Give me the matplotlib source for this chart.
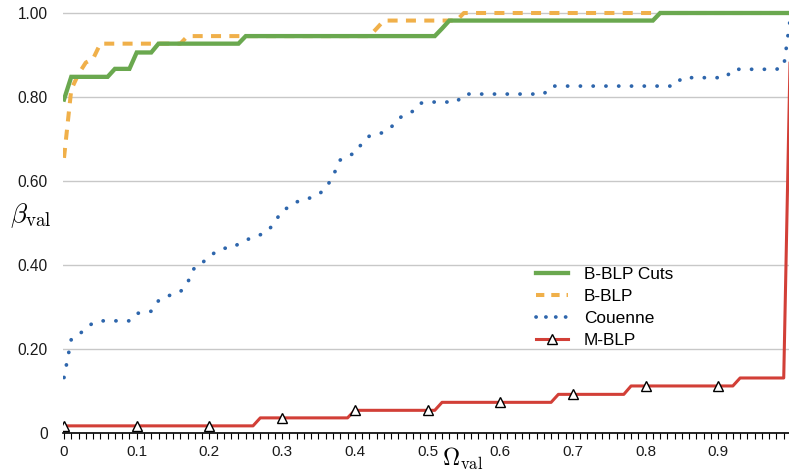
import numpy as np
import matplotlib
matplotlib.use('Agg')
import matplotlib.pyplot as plt
from matplotlib.ticker import MultipleLocator
from matplotlib.lines import Line2D

# ---------------- data ----------------
omega = np.linspace(0, 1, 101)

bblp_cuts = [0.794,
             0.848, 0.848, 0.848, 0.848, 0.848, 0.848,
             0.867, 0.867, 0.867,
             0.906, 0.906, 0.906,
             0.927, 0.927, 0.927, 0.927, 0.927, 0.927, 0.927, 0.927, 0.927, 0.927, 0.927, 0.927,
             0.945, 0.945, 0.945, 0.945, 0.945, 0.945, 0.945, 0.945, 0.945, 0.945,
             0.945, 0.945, 0.945, 0.945, 0.945, 0.945, 0.945, 0.945, 0.945, 0.945,
             0.945, 0.945, 0.945, 0.945, 0.945, 0.945, 0.945,
             0.963,
             0.982, 0.982, 0.982, 0.982, 0.982, 0.982, 0.982, 0.982, 0.982, 0.982,
             0.982, 0.982, 0.982, 0.982, 0.982, 0.982, 0.982, 0.982, 0.982, 0.982,
             0.982, 0.982, 0.982, 0.982, 0.982, 0.982, 0.982, 0.982, 0.982,
             1.0, 1.0, 1.0, 1.0, 1.0, 1.0, 1.0, 1.0, 1.0, 1.0,
             1.0, 1.0, 1.0, 1.0, 1.0, 1.0, 1.0, 1.0, 1.0]

bblp = [0.655, 0.818, 0.855, 0.882, 0.891,
        0.927, 0.927, 0.927, 0.927, 0.927, 0.927, 0.927, 0.927, 0.927, 0.927, 0.927, 0.927,
        0.945, 0.945, 0.945, 0.945, 0.945, 0.945, 0.945, 0.945, 0.945, 0.945,
        0.945, 0.945, 0.945, 0.945, 0.945, 0.945, 0.945, 0.945, 0.945, 0.945,
        0.945, 0.945, 0.945, 0.945, 0.945, 0.945,
        0.963,
        0.982, 0.982, 0.982, 0.982, 0.982, 0.982, 0.982, 0.982, 0.982, 0.982, 0.982,
        1.0, 1.0, 1.0, 1.0, 1.0, 1.0, 1.0, 1.0, 1.0, 1.0,
        1.0, 1.0, 1.0, 1.0, 1.0, 1.0, 1.0, 1.0, 1.0, 1.0,
        1.0, 1.0, 1.0, 1.0, 1.0, 1.0, 1.0, 1.0, 1.0, 1.0,
        1.0, 1.0, 1.0, 1.0, 1.0, 1.0, 1.0, 1.0, 1.0, 1.0,
        1.0, 1.0, 1.0, 1.0, 1.0, 1.0]

couenne = [0.132, 0.223, 0.233, 0.250, 0.262, 0.267, 0.267, 0.267, 0.267, 0.267,
           0.285, 0.286, 0.290, 0.315, 0.326, 0.329, 0.336, 0.358, 0.396, 0.405,
           0.420, 0.433, 0.440, 0.440, 0.450, 0.459, 0.466, 0.472, 0.480, 0.502,
           0.530, 0.538, 0.550, 0.557, 0.560, 0.568, 0.582, 0.612, 0.650, 0.660,
           0.666, 0.690, 0.707, 0.711, 0.716, 0.728, 0.748, 0.760, 0.766, 0.785,
           0.788, 0.788, 0.788, 0.788, 0.788,
           0.807, 0.807, 0.807, 0.807, 0.807, 0.807, 0.807, 0.807, 0.807, 0.807, 0.807, 0.807,
           0.826, 0.826, 0.826, 0.826, 0.826, 0.826, 0.826, 0.826, 0.826,
           0.826, 0.826, 0.826, 0.826, 0.826, 0.826, 0.826, 0.826, 0.826,
           0.846, 0.846, 0.846, 0.846, 0.846, 0.846, 0.846,
           0.866, 0.866, 0.866, 0.866, 0.866, 0.866, 0.866,
           0.872, 1.0]

mblp = [0.017, 0.017, 0.017, 0.017, 0.017, 0.017, 0.017, 0.017, 0.017, 0.017,
        0.017, 0.017, 0.017, 0.017, 0.017, 0.017, 0.017, 0.017, 0.017, 0.017,
        0.017, 0.017, 0.017, 0.017, 0.017, 0.017, 0.017,
        0.036, 0.036, 0.036, 0.036, 0.036, 0.036, 0.036, 0.036, 0.036, 0.036, 0.036, 0.036, 0.036,
        0.054, 0.054, 0.054, 0.054, 0.054, 0.054, 0.054, 0.054, 0.054, 0.054, 0.054, 0.054,
        0.073, 0.073, 0.073, 0.073, 0.073, 0.073, 0.073, 0.073,
        0.073, 0.073, 0.073, 0.073, 0.073, 0.073, 0.073, 0.073,
        0.092, 0.092, 0.092, 0.092, 0.092, 0.092, 0.092, 0.092, 0.092, 0.092,
        0.112, 0.112, 0.112, 0.112, 0.112, 0.112, 0.112, 0.112,
        0.112, 0.112, 0.112, 0.112, 0.112, 0.112, 0.112,
        0.131, 0.131, 0.131, 0.131, 0.131, 0.131, 0.131,
        1.0]

labels = ['B-BLP Cuts', 'B-BLP', 'Couenne', 'M-BLP']
xtick_values = [0, 0.1, 0.2, 0.3, 0.4, 0.5, 0.6, 0.7, 0.8, 0.9]
xtick_labels = ['0', '0.1', '0.2', '0.3', '0.4', '0.5', '0.6', '0.7', '0.8', '0.9']
ytick_values = [0, 0.2, 0.4, 0.6, 0.8, 1.0]
ytick_labels = ['0', '0.20', '0.40', '0.60', '0.80', '1.00']

# ---------------- style ----------------
plt.rcParams['font.family'] = ['Liberation Sans', 'DejaVu Sans']
plt.rcParams['mathtext.fontset'] = 'cm'
plt.rcParams['lines.scale_dashes'] = False

c_green = '#6aa84f'
c_orange = '#f0b04a'
c_blue = '#2e66ac'
c_red = '#d23f37'

W, H = 789, 476
fig = plt.figure(figsize=(W / 100, H / 100), dpi=100)
y0px, ytop = 433.0, 5.0
ax = fig.add_axes([63 / W, (H - y0px) / H, (W - 63) / W, (y0px - ytop) / H])

ax.set_xlim(-1 / 727, (W - 64) / 727)
ax.set_ylim(0, (y0px - ytop) / 420.0)

l_orange, = ax.plot(omega, bblp, color=c_orange, lw=2.9, dashes=(7.2, 6.0),
                    dash_capstyle='butt', zorder=2)
l_green, = ax.plot(omega, bblp_cuts, color=c_green, lw=3.1, zorder=3,
                   solid_joinstyle='miter')
l_blue, = ax.plot(omega, couenne, color=c_blue, lw=2.7, dashes=(0.1, 9.1),
                  dash_capstyle='round', zorder=4)
l_red, = ax.plot(omega, mblp, color=c_red, lw=2.2, zorder=5,
                 marker='^', markersize=7, markerfacecolor='white',
                 markeredgecolor='black', markeredgewidth=1.0,
                 markevery=list(range(0, 100, 10)))

# axes styling
for s in ['left', 'top', 'right']:
    ax.spines[s].set_visible(False)
ax.spines['bottom'].set_color('black')
ax.spines['bottom'].set_linewidth(1.2)

ax.set_xticks(xtick_values, xtick_labels)
ax.xaxis.set_minor_locator(MultipleLocator(0.01))
ax.tick_params(axis='x', which='both', direction='out', length=4, width=0.8,
               color='black', pad=5, labelsize=11, labelcolor='#1a1a1a')
ax.set_yticks(ytick_values, ytick_labels)
ax.tick_params(axis='y', length=0, pad=11, labelsize=11.2, labelcolor='#1a1a1a')
ax.grid(axis='y', color='#c8c8c8', lw=1.0)
ax.grid(axis='x', visible=False)
ax.set_axisbelow(True)

# axis labels
fig.text(31 / W, 1 - 216 / H, r'$\beta_{\rm val}$', fontsize=19.5,
         ha='center', va='center')
fig.text(463 / W, 1 - 459 / H, r'$\Omega_{\rm val}$', fontsize=17,
         ha='center', va='center')

# legend
handles = [Line2D([], [], color=c_green, lw=3.1),
           Line2D([], [], color=c_orange, lw=2.9, dashes=(6.0, 5.0), dash_capstyle='butt'),
           Line2D([], [], color=c_blue, lw=2.7, dashes=(0.1, 7.0), dash_capstyle='round'),
           Line2D([], [], color=c_red, lw=2.2, marker='^', markersize=7,
                  markerfacecolor='white', markeredgecolor='black', markeredgewidth=1.0)]
ax.legend(handles, labels, loc='upper left',
          bbox_to_anchor=(536 / W, 1 - 267 / H), bbox_transform=fig.transFigure,
          frameon=False, fontsize=12.4, handlelength=1.86, handletextpad=0.93,
          labelspacing=0.4, borderpad=0, borderaxespad=0)

fig.savefig('out.png', dpi=100)
